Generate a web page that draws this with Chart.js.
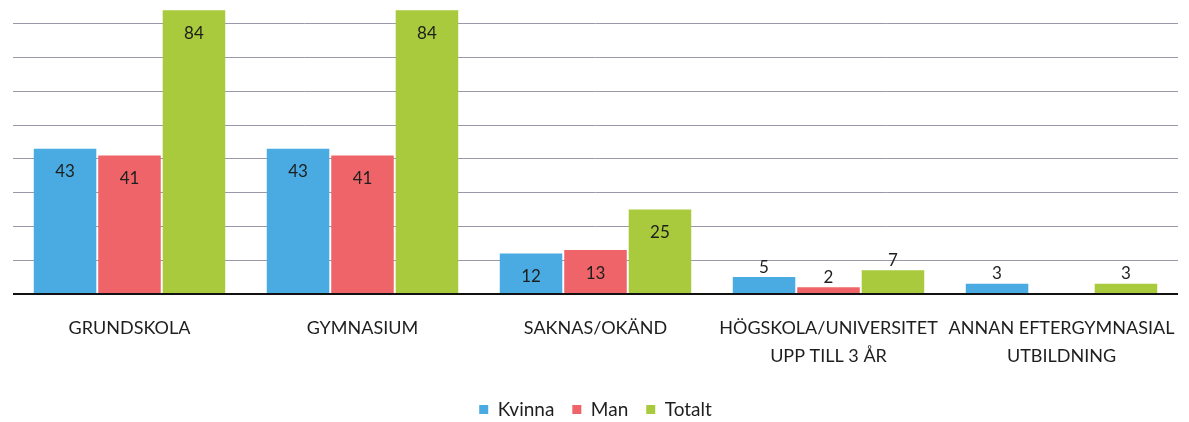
<!DOCTYPE html>
<html>
<head>
<meta charset="utf-8">
<script src="https://cdn.jsdelivr.net/npm/chart.js@4"></script>
<style>
    html, body { margin: 0; padding: 0; background: #fff; overflow: hidden; }
    .chart-wrapper { position: absolute; left: 0; top: -10px; width: 1189px; height: 439px; }
</style>
</head>
<body>
<div class="chart-wrapper"><canvas id="eduChart"></canvas></div>
<script>
// Chart data
const categories = [
    'GRUNDSKOLA',
    'GYMNASIUM',
    'SAKNAS/OKÄND',
    ['HÖGSKOLA/UNIVERSITET', 'UPP TILL 3 ÅR'],
    ['ANNAN EFTERGYMNASIAL', 'UTBILDNING']
];
const kvinna = [43, 43, 12, 5, 3];
const man = [41, 41, 13, 2, 0];
const totalt = [84, 84, 25, 7, 3];

const FONT = 'Lato, "Open Sans", sans-serif';

// Value labels: inside the top of tall bars, above short ones
const valueLabels = {
    id: 'valueLabels',
    afterDatasetsDraw(chart) {
        const ctx = chart.ctx;
        ctx.save();
        ctx.font = '17px ' + FONT;
        ctx.fillStyle = '#1e1e1e';
        ctx.textAlign = 'center';
        ctx.textBaseline = 'middle';
        chart.data.datasets.forEach((ds, i) => {
            chart.getDatasetMeta(i).data.forEach((bar, j) => {
                const v = ds.data[j];
                if (!v) return;
                const y = v >= 10 ? bar.y + 23 : bar.y - 10;
                ctx.fillText(String(v), bar.x, y);
            });
        });
        ctx.restore();
    }
};

const ctx = document.getElementById('eduChart').getContext('2d');
new Chart(ctx, {
    type: 'bar',
    data: {
        labels: categories,
        datasets: [
            { label: 'Kvinna', data: kvinna, backgroundColor: '#4AABE2' },
            { label: 'Man', data: man, backgroundColor: '#EE6468' },
            { label: 'Totalt', data: totalt, backgroundColor: '#A8CA3C' }
        ]
    },
    options: {
        responsive: true,
        maintainAspectRatio: false,
        animation: false,
        layout: { padding: { left: 13, right: 11, top: 0, bottom: 0 } },
        datasets: {
            bar: { categoryPercentage: 0.83, barPercentage: 0.97 }
        },
        plugins: {
            legend: {
                position: 'bottom',
                labels: {
                    boxWidth: 9,
                    boxHeight: 9,
                    padding: 18,
                    color: '#1e1e1e',
                    font: { family: FONT, size: 19 }
                }
            },
            tooltip: { enabled: false }
        },
        scales: {
            y: {
                min: 0,
                max: 90,
                display: true,
                ticks: { display: false, stepSize: 10 },
                border: { display: false },
                grid: {
                    color: ctx => ctx.tick.value === 0 ? '#111' : '#9b98aa',
                    lineWidth: ctx => ctx.tick.value === 0 ? 2 : 1,
                    drawTicks: false
                }
            },
            x: {
                border: { display: false },
                grid: { display: false },
                ticks: {
                    color: '#1e1e1e',
                    padding: 12,
                    maxRotation: 0,
                    autoSkip: false,
                    font: { family: FONT, size: 18, lineHeight: 1.55 }
                },
                afterFit: scale => { scale.height = 88; }
            }
        }
    },
    plugins: [valueLabels]
});
</script>
</body>
</html>
